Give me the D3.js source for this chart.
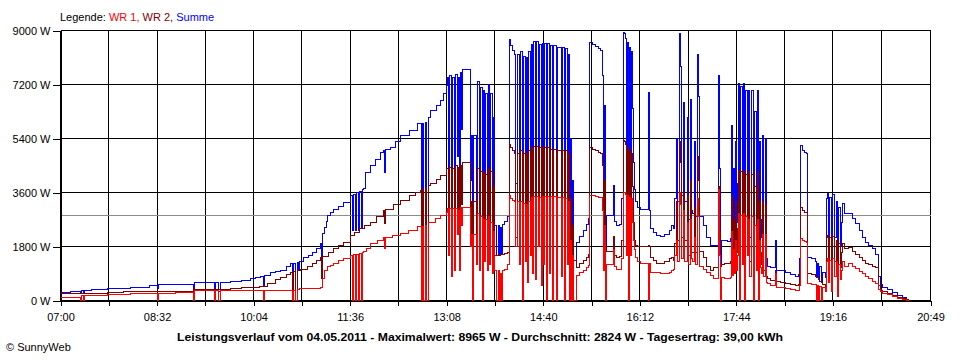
<!DOCTYPE html>
<html><head><meta charset="utf-8">
<script src="https://cdn.jsdelivr.net/npm/d3@7"></script>
<style>
body{margin:0;background:#fff;}
svg{display:block;font-family:"Liberation Sans",Arial,sans-serif;}
</style>
</head><body>
<svg id="chart" width="960" height="360"></svg>
<script>
// ---------------- data ----------------
const xTickLabels = ["07:00","08:32","10:04","11:36","13:08","14:40","16:12","17:44","19:16","20:49"];
const yTicks = [0,1800,3600,5400,7200,9000];
const avgPower = 2824;
const legendLabel = "Legende: ";
const seriesNames = ["WR 1","WR 2","Summe"];
const titleText = "Leistungsverlauf vom 04.05.2011 - Maximalwert: 8965 W - Durchschnitt: 2824 W - Tagesertrag: 39,00 kWh";
const copyrightText = "\u00A9 SunnyWeb";

// WR 1 [time, W]
const wr1 = [["07:00",90],["07:19",0],["07:20",160],["07:22",0],["07:23",170],["07:45",190],["08:07",240],["08:32",0],["08:33",250],["08:50",270],["09:07",0],["09:08",330],["09:27",0],["09:28",330],["09:31",0],["09:32",330],["10:13",0],["10:14",330],["10:41",0],["10:42",350],["10:44",0],["10:46",380],["10:48",400],["11:08",430],["11:10",750],["11:12",1000],["11:14",1130],["11:17",1170],["11:20",1240],["11:25",1320],["11:30",1400],["11:36",1500],["11:38",0],["11:39",1520],["11:41",0],["11:42",1540],["11:44",0],["11:45",1560],["11:47",0],["11:48",1600],["11:49",1620],["11:52",1750],["11:55",1890],["12:02",2000],["12:08",2100],["12:09",1730],["12:10",2110],["12:16",2170],["12:24",2220],["12:32",2350],["12:40",2470],["12:44",0],["12:45",2480],["12:46",0],["12:48",2500],["12:49",0],["12:51",2610],["12:57",2720],["13:02",2830],["13:08",2940],
["13:09",3070],["13:10",1500],["13:11",3080],["13:13",800],["13:14",3070],["13:15",1000],["13:16",3060],["13:18",2200],["13:19",3000],["13:20",1000],["13:21",3090],["13:22",2500],["13:23",3100],["13:31",1800],["13:32",2200],["13:33",0],["13:34",2200],["13:36",1200],["13:37",2900],["13:39",1000],["13:40",2800],["13:42",0],["13:43",2700],["13:44",1300],["13:45",2700],["13:47",1000],["13:48",2800],["13:49",1200],["13:50",2600],["13:52",900],["13:53",2300],["13:54",1000],["13:55",0],["13:57",1000],["13:58",0],["13:59",900],["14:00",0],["14:01",1000],["14:03",1050],["14:06",1200],
["14:08",3500],["14:09",3400],["14:11",3350],["14:13",3300],["14:14",1800],["14:15",3300],["14:17",1200],["14:18",3300],["14:20",0],["14:21",3250],["14:23",1300],["14:24",3200],["14:25",600],["14:26",3300],["14:28",1500],["14:29",3450],["14:30",900],["14:31",3480],["14:33",700],["14:34",3480],["14:35",1800],["14:36",3450],["14:38",500],["14:39",3480],["14:40",1200],["14:41",3480],["14:43",0],["14:44",3470],["14:46",900],["14:47",3460],["14:49",0],["14:50",3460],["14:53",0],["14:54",3450],["14:57",800],["14:58",3450],["15:00",0],["15:01",3400],["15:03",1200],["15:04",3300],["15:05",0],["15:06",2000],["15:07",0],["15:08",1500],["15:09",0],["15:12",850],["15:15",920],["15:18",1000],["15:21",1100],["15:23",1170],
["15:24",3500],["15:27",3500],["15:30",3480],["15:33",3450],["15:35",3450],["15:36",3000],["15:37",1000],["15:38",2500],["15:39",0],["15:40",1200],["15:47",1700],["15:48",1150],["15:50",1050],["15:53",1050],["15:55",1400],["15:56",3610],["15:57",3600],["15:58",3550],["15:59",1500],["16:00",3500],["16:01",0],["16:02",3450],["16:03",1500],["16:04",3400],["16:05",2600],["16:06",2000],["16:07",1700],["16:08",1450],["16:10",1300],["16:13",1230],["16:20",0],["16:21",1230],["16:22",950],["16:25",930],["16:28",920],["16:32",900],["16:36",910],["16:40",930],["16:42",1000],["16:44",1050],["16:45",1500],["16:47",2000],["16:48",1300],["16:50",3600],["16:51",3200],["16:52",1400],["16:54",3000],["16:55",1300],["16:57",2600],["16:58",1200],["17:00",2700],["17:01",1400],["17:02",1300],["17:04",2100],["17:05",1200],["17:07",3400],["17:08",2800],["17:09",1150],["17:13",1050],["17:16",950],["17:19",850],["17:22",740],["17:27",3700],["17:28",1500],["17:29",0],["17:30",760],["17:33",740],["17:36",730],["17:38",780],["17:39",2300],["17:40",850],["17:41",1700],["17:42",900],["17:43",2000],["17:44",1000],
["17:45",1500],["17:46",2900],["17:47",0],["17:48",2850],["17:50",1200],["17:51",2900],["17:52",0],["17:53",2800],["17:55",1500],["17:56",2700],["17:57",800],["17:58",2800],["18:00",0],["18:01",2500],["18:03",1000],["18:04",2700],["18:05",0],["18:06",2000],["18:07",1100],["18:08",900],["18:09",2200],["18:10",800],["18:12",2200],["18:13",600],["18:14",560],["18:17",500],["18:21",900],["18:22",450],["18:26",440],["18:31",400],["18:36",360],["18:40",330],["18:43",340],["18:44",500],["18:45",2060],["18:47",2000],["18:49",1960],["18:51",1950],["18:52",560],["18:56",550],["18:59",520],["19:00",0],["19:01",500],["19:02",0],["19:03",480],["19:05",0],["19:06",430],["19:09",300],["19:10",1300],["19:11",1400],["19:12",600],["19:13",1350],["19:15",300],["19:16",1400],["19:18",800],["19:19",1300],["19:20",150],["19:21",1200],["19:23",700],["19:24",1000],["19:25",1300],["19:27",1150],["19:31",1220],["19:35",1150],["19:38",1080],["19:41",980],["19:44",890],["19:47",800],["19:50",720],["19:54",650],["19:57",560],["19:59",380],["20:01",290],["20:03",250],["20:08",190],["20:13",130],["20:18",80],["20:22",40],["20:26",10],["20:28",0]];

// WR 2 [time, W]
const wr2 = [["07:00",220],["07:19",230],["07:45",280],["08:00",290],["08:32",310],["09:07",360],["09:20",380],["09:42",410],["09:52",430],["10:04",440],["10:10",480],["10:17",580],["10:25",700],["10:30",780],["10:35",860],["10:39",950],["10:41",0],["10:42",960],["10:44",0],["10:46",1000],["10:49",1050],["10:55",1150],["11:00",1250],["11:04",1350],["11:08",1440],["11:09",730],["11:10",1460],["11:15",1600],["11:20",1720],["11:25",1830],["11:30",1950],["11:36",2170],["11:40",2280],["11:45",2400],["11:50",2500],["11:55",2610],["12:01",2800],["12:08",3000],["12:09",2570],["12:10",3020],["12:17",3200],["12:24",3330],["12:33",3500],["12:38",3600],["12:43",3670],["12:44",0],["12:45",3700],["12:46",0],["12:48",3750],["12:49",0],["12:51",3850],["12:53",3900],["12:58",4050],["13:02",4170],["13:08",4390],
["13:09",4400],["13:10",2500],["13:11",4450],["13:13",2000],["13:14",4400],["13:15",2000],["13:16",4500],["13:18",2600],["13:19",4450],["13:20",1950],["13:21",4500],["13:22",3200],["13:23",4600],["13:31",2200],["13:32",3300],["13:33",1600],["13:34",3300],["13:36",1800],["13:37",4400],["13:39",1700],["13:40",4300],["13:42",1500],["13:43",4300],["13:44",2300],["13:45",4200],["13:47",1800],["13:48",4400],["13:49",1700],["13:50",4300],["13:52",1500],["13:53",3800],["13:54",1500],["13:55",1500],["13:59",1520],["14:01",1550],["14:03",1580],["14:06",1600],
["14:08",5200],["14:09",5100],["14:11",5000],["14:13",4900],["14:14",2100],["14:15",4900],["14:17",2000],["14:18",5000],["14:20",1500],["14:21",4900],["14:23",2200],["14:24",4900],["14:25",1500],["14:26",5000],["14:28",2500],["14:29",5100],["14:30",1700],["14:31",5150],["14:33",1500],["14:34",5150],["14:35",3000],["14:36",5100],["14:38",1400],["14:39",5100],["14:40",2200],["14:41",5100],["14:43",1500],["14:44",5100],["14:46",1700],["14:47",5050],["14:49",2000],["14:50",5050],["14:53",2500],["14:54",5000],["14:57",1600],["14:58",5000],["15:00",1500],["15:01",5000],["15:03",2000],["15:04",4900],["15:05",1400],["15:06",3400],["15:07",1400],["15:08",2500],["15:09",1350],["15:12",1100],["15:15",1230],["15:18",1350],["15:21",1450],["15:23",1550],
["15:24",5100],["15:27",5050],["15:30",5000],["15:33",4950],["15:35",4900],["15:36",4500],["15:37",2000],["15:38",4000],["15:39",1800],["15:40",1630],["15:47",2130],["15:48",1500],["15:50",1450],["15:53",1480],["15:55",2000],["15:56",5330],["15:57",5300],["15:58",5200],["15:59",2500],["16:00",5100],["16:01",2000],["16:02",5000],["16:03",2200],["16:04",4900],["16:05",3800],["16:06",2600],["16:07",2000],["16:08",1850],["16:10",1800],["16:13",1800],["16:20",1850],["16:21",1800],["16:22",1450],["16:25",1330],["16:28",1250],["16:32",1220],["16:36",1290],["16:40",1390],["16:42",1450],["16:44",1350],["16:45",1900],["16:47",3300],["16:48",2000],["16:50",5300],["16:51",4600],["16:52",2100],["16:54",3600],["16:55",2000],["16:57",3500],["16:58",1500],["17:00",4000],["17:01",1600],["17:02",1600],["17:04",3100],["17:05",1600],["17:07",4800],["17:08",4000],["17:09",1650],["17:13",1450],["17:16",1150],["17:19",1000],["17:22",1100],["17:27",3800],["17:28",2300],["17:29",1150],["17:30",1200],["17:33",1250],["17:36",1220],["17:38",1300],["17:39",3500],["17:40",1300],["17:41",2700],["17:42",1350],["17:43",3300],["17:44",1600],
["17:45",2400],["17:46",4330],["17:47",1500],["17:48",4300],["17:50",1800],["17:51",4330],["17:52",1400],["17:53",4200],["17:55",2300],["17:56",4300],["17:57",1300],["17:58",4200],["18:00",1400],["18:01",3800],["18:03",1500],["18:04",4300],["18:05",1500],["18:06",3300],["18:07",1600],["18:08",1200],["18:09",3300],["18:10",1000],["18:12",3200],["18:13",800],["18:14",720],["18:17",680],["18:21",1000],["18:22",620],["18:26",600],["18:31",560],["18:36",520],["18:40",500],["18:43",540],["18:44",900],["18:45",3090],["18:47",3000],["18:49",2950],["18:51",2940],["18:52",900],["18:56",860],["18:59",800],["19:00",780],["19:01",760],["19:02",700],["19:03",650],["19:05",600],["19:06",520],["19:09",480],["19:10",2100],["19:11",2170],["19:12",1000],["19:13",2100],["19:15",600],["19:16",2150],["19:18",1300],["19:19",2000],["19:20",300],["19:21",1900],["19:23",1100],["19:24",1600],["19:25",1900],["19:27",1750],["19:31",1780],["19:35",1650],["19:38",1550],["19:41",1430],["19:44",1330],["19:47",1250],["19:50",1200],["19:54",1150],["19:57",1110],["19:59",500],["20:01",330],["20:03",300],["20:08",230],["20:13",170],["20:18",110],["20:22",60],["20:26",20],["20:28",0]];

// Summe [time, W]
const summe = [["07:00",280],["07:10",300],["07:19",230],["07:20",330],["07:22",230],["07:23",340],["07:30",360],["07:45",390],["08:07",450],["08:25",500],["08:32",390],["08:33",520],["08:50",550],["09:07",360],["09:08",590],["09:27",300],["09:28",600],["09:31",300],["09:32",610],["09:42",640],["09:52",680],["10:01",720],["10:06",760],["10:11",800],["10:13",500],["10:14",830],["10:20",930],["10:25",970],["10:30",1000],["10:35",1120],["10:39",1240],["10:41",0],["10:42",1250],["10:44",0],["10:46",1270],["10:47",1000],["10:48",1300],["10:52",1440],["10:56",1500],["11:00",1600],["11:04",1750],["11:08",1890],["11:09",730],["11:10",2230],["11:12",2440],["11:13",2650],["11:14",2830],["11:17",2950],["11:20",3050],["11:25",3150],["11:30",3280],["11:36",3500],["11:38",2330],["11:39",3550],["11:41",2330],["11:42",3600],["11:44",2350],["11:45",3650],["11:47",2400],["11:48",3700],["11:49",3750],["11:51",4280],["11:55",4500],["12:00",4700],["12:05",4940],["12:08",5000],["12:09",4280],["12:10",5050],["12:14",5110],["12:19",5300],["12:24",5500],["12:33",5670],["12:40",5890],["12:44",0],["12:45",5900],["12:46",0],["12:48",5950],["12:49",0],["12:51",6100],["12:53",6330],["12:58",6500],["13:02",6670],["13:05",6900],["13:08",7170],
["13:09",7450],["13:10",4000],["13:11",7500],["13:13",2800],["13:14",7450],["13:15",3000],["13:16",7550],["13:18",4800],["13:19",7450],["13:20",2950],["13:21",7600],["13:22",5700],["13:23",7700],["13:31",4000],["13:32",5500],["13:33",1600],["13:34",5500],["13:36",3000],["13:37",7300],["13:39",2700],["13:40",7100],["13:42",1500],["13:43",7000],["13:44",3600],["13:45",6900],["13:47",2800],["13:48",7200],["13:49",2900],["13:50",6900],["13:52",2400],["13:53",6100],["13:54",2500],["13:55",1500],["13:57",2500],["13:58",1500],["13:59",2420],["14:00",1520],["14:01",2550],["14:03",2630],["14:06",2800],
["14:08",8700],["14:09",8500],["14:11",8350],["14:13",8200],["14:14",3900],["14:15",8200],["14:17",3200],["14:18",8300],["14:20",1500],["14:21",8150],["14:23",3500],["14:24",8100],["14:25",2100],["14:26",8300],["14:28",4000],["14:29",8550],["14:30",2600],["14:31",8630],["14:33",2200],["14:34",8630],["14:35",4800],["14:36",8550],["14:38",1900],["14:39",8580],["14:40",3400],["14:41",8580],["14:43",1500],["14:44",8570],["14:46",2600],["14:47",8510],["14:49",3600],["14:50",8500],["14:53",3800],["14:54",8450],["14:57",2400],["14:58",8450],["15:00",1500],["15:01",8400],["15:03",3200],["15:04",8200],["15:05",1400],["15:06",5400],["15:07",1400],["15:08",4000],["15:09",1350],["15:12",1950],["15:15",2150],["15:18",2350],["15:21",2550],["15:23",2720],
["15:24",8600],["15:27",8550],["15:30",8480],["15:33",8400],["15:35",8350],["15:36",7500],["15:37",3000],["15:38",6500],["15:39",1800],["15:40",2830],["15:47",3830],["15:48",2650],["15:50",2500],["15:53",2530],["15:55",3400],["15:56",8940],["15:57",8900],["15:58",8750],["15:59",4000],["16:00",8600],["16:01",2000],["16:02",8450],["16:03",3700],["16:04",8300],["16:05",6400],["16:06",4600],["16:07",3700],["16:08",3300],["16:10",3100],["16:13",3030],["16:20",6940],["16:21",3000],["16:22",2400],["16:25",2260],["16:28",2170],["16:32",2120],["16:36",2200],["16:40",2320],["16:42",2500],["16:44",2400],["16:45",3400],["16:47",5400],["16:48",3300],["16:50",8900],["16:51",7800],["16:52",3500],["16:54",6600],["16:55",3300],["16:57",6100],["16:58",2700],["17:00",6700],["17:01",3000],["17:02",2900],["17:04",5300],["17:05",2800],["17:07",8200],["17:08",6800],["17:09",2800],["17:13",2500],["17:16",2100],["17:19",1850],["17:22",1840],["17:27",7500],["17:28",4400],["17:29",1150],["17:30",2000],["17:33",2000],["17:36",1960],["17:38",2080],["17:39",5830],["17:40",2150],["17:41",4400],["17:42",2250],["17:43",5300],["17:44",2600],
["17:45",3900],["17:46",7230],["17:47",1500],["17:48",7150],["17:50",3000],["17:51",7230],["17:52",1400],["17:53",7000],["17:55",3800],["17:56",7000],["17:57",2100],["17:58",7000],["18:00",1400],["18:01",6300],["18:03",2500],["18:04",7000],["18:05",1500],["18:06",5300],["18:07",2700],["18:08",2100],["18:09",5500],["18:10",1800],["18:12",5400],["18:13",1400],["18:14",1150],["18:17",1100],["18:21",2000],["18:22",1000],["18:26",1000],["18:31",940],["18:36",880],["18:40",800],["18:43",870],["18:44",1400],["18:45",5170],["18:47",5000],["18:49",4940],["18:51",4900],["18:52",1450],["18:56",1400],["18:59",1300],["19:00",780],["19:01",1250],["19:02",700],["19:03",1130],["19:05",600],["19:06",950],["19:09",780],["19:10",3400],["19:11",3570],["19:12",1600],["19:13",3450],["19:15",900],["19:16",3550],["19:18",2100],["19:19",3300],["19:20",450],["19:21",3100],["19:23",1800],["19:24",2600],["19:25",3230],["19:27",2900],["19:31",2890],["19:35",2720],["19:38",2560],["19:41",2330],["19:44",2110],["19:47",1950],["19:50",1850],["19:54",1750],["19:57",1550],["19:59",800],["20:01",520],["20:03",450],["20:08",380],["20:13",280],["20:18",170],["20:22",100],["20:26",40],["20:28",0]];

// ---------------- drawing ----------------
const colors = {"WR 1":"#ff0000","WR 2":"#800000","Summe":"#0000ff"};
const parseT = s => { const p = s.split(":").map(Number); return p[0]*60 + p[1]; };

const svg = d3.select("#chart");
const x = d3.scaleLinear()
  .domain([parseT(xTickLabels[0]), parseT(xTickLabels[xTickLabels.length-1])])
  .range([60.5, 930.5]);
const y = d3.scaleLinear().domain([0, 9000]).range([300.5, 30.5]);

// gridline times: label times plus midpoints between them
const labelTimes = xTickLabels.map(parseT);
const gridTimes = [];
labelTimes.forEach((t, i) => {
  gridTimes.push(t);
  if (i < labelTimes.length - 1) gridTimes.push((t + labelTimes[i+1]) / 2);
});

const grid = svg.append("g").attr("shape-rendering","crispEdges");
grid.selectAll("line.h").data(yTicks).join("line")
  .attr("x1", x.range()[0]).attr("x2", x.range()[1])
  .attr("y1", d => y(d)).attr("y2", d => y(d))
  .attr("stroke","#000").attr("stroke-width",1);
grid.selectAll("line.v").data(gridTimes).join("line")
  .attr("x1", d => x(d)).attr("x2", d => x(d))
  .attr("y1", y.range()[0]).attr("y2", y.range()[1])
  .attr("stroke","#000").attr("stroke-width",1);

// average line
svg.append("line").attr("shape-rendering","crispEdges")
  .attr("x1", x.range()[0]).attr("x2", x.range()[1])
  .attr("y1", y(avgPower)).attr("y2", y(avgPower))
  .attr("stroke","#8c8c8c").attr("stroke-width",1);

// axes
const yAxis = d3.axisLeft(y).tickValues(yTicks).tickSize(8).tickSizeOuter(0).tickPadding(2)
  .tickFormat(d => d + " W");
const gy = svg.append("g").attr("transform","translate(60.5,0)").call(yAxis);
const xAxis = d3.axisBottom(x).tickValues(gridTimes).tickSize(5).tickSizeOuter(0).tickPadding(8)
  .tickFormat(d => { const i = labelTimes.indexOf(d); return i >= 0 ? xTickLabels[i] : ""; });
const gx = svg.append("g").attr("transform","translate(0,300.5)").call(xAxis);
[gy, gx].forEach(g => {
  g.attr("font-family",'"Liberation Sans",Arial,sans-serif').attr("font-size",11)
   .attr("shape-rendering","crispEdges");
  g.selectAll("text").attr("fill","#000");
  g.selectAll("line,path").attr("stroke","#000");
});

// series lines
const line = d3.line()
  .x(d => x(parseT(d[0])))
  .y(d => y(d[1]))
  .curve(d3.curveStepAfter);
const series = [["Summe", summe], ["WR 2", wr2], ["WR 1", wr1]];
svg.append("g").selectAll("path").data(series).join("path")
  .attr("d", d => line(d[1]))
  .attr("fill","none")
  .attr("stroke", d => colors[d[0]])
  .attr("stroke-width",1)
  .attr("shape-rendering","crispEdges");

// legend
const leg = svg.append("text").attr("x",60).attr("y",20.5).attr("font-size",11).attr("fill","#000");
leg.append("tspan").text(legendLabel);
seriesNames.forEach((n, i) => {
  leg.append("tspan").attr("fill", colors[n])
    .text((i ? " " : "") + n + (i < seriesNames.length - 1 ? "," : ""));
});

// title
svg.append("text").attr("x",480).attr("y",341).attr("text-anchor","middle")
  .attr("font-size",11.5).attr("font-weight","bold").attr("fill","#000")
  .attr("textLength",606).attr("lengthAdjust","spacingAndGlyphs")
  .text(titleText);

// copyright
svg.append("text").attr("x",6).attr("y",351).attr("font-size",11).attr("fill","#000")
  .text(copyrightText);
</script>
</body></html>
